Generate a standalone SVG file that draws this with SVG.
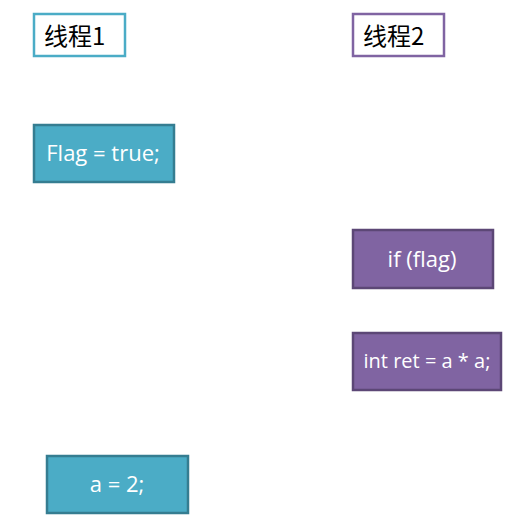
<svg xmlns="http://www.w3.org/2000/svg" width="530" height="523" viewBox="0 0 530 523">
<style>
.hdr1{fill:#fff;stroke:#4BACC6;stroke-width:2.5}
.hdr2{fill:#fff;stroke:#8064A2;stroke-width:2.5}
.b1{fill:#4BACC6;stroke:#357D91;stroke-width:2.5}
.b2{fill:#8064A2;stroke:#5C4776;stroke-width:2.5}
.th{font-family:"Noto Sans CJK SC","Liberation Sans",sans-serif;font-size:24px;fill:#000;dominant-baseline:central}
.tw{font-family:"Open Sans","Liberation Sans",sans-serif;font-size:22px;fill:#fff;text-anchor:middle;dominant-baseline:central}
</style>
<rect width="530" height="523" fill="#fff"/>
<g id="thread1"><rect class="hdr1" x="34" y="14" width="91" height="42"/><text class="th" x="44" y="34">线程1</text></g>
<g id="thread2"><rect class="hdr2" x="353" y="14" width="91" height="42"/><text class="th" x="363" y="34">线程2</text></g>
<g id="flag"><rect class="b1" x="34" y="125" width="140" height="57"/><text class="tw" x="103" y="152">Flag = true;</text></g>
<g id="iff"><rect class="b2" x="353" y="230" width="140" height="58"/><text class="tw" x="422" y="258">if (flag)</text></g>
<g id="intret"><rect class="b2" x="353" y="333" width="148" height="57"/><text class="tw" x="427" y="360" style="font-size:20px">int ret = a * a;</text></g>
<g id="a2"><rect class="b1" x="47" y="456" width="141" height="57"/><text class="tw" x="117" y="483">a = 2;</text></g>
<g id="connectors"></g>
</svg>
